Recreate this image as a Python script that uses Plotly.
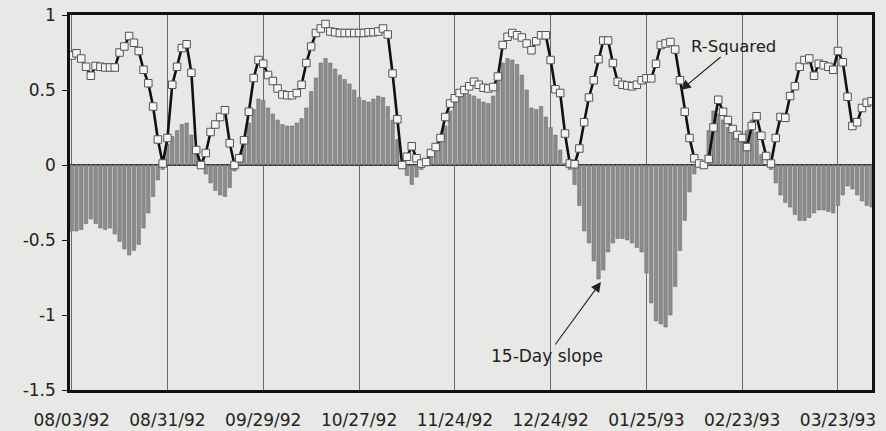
import plotly.graph_objects as go

# Trading-day index labels (every 20 sessions)
tick_positions = [0, 20, 40, 60, 80, 100, 120, 140, 160]
tick_labels = ["08/03/92", "08/31/92", "09/29/92", "10/27/92", "11/24/92",
               "12/24/92", "01/25/93", "02/23/93", "03/23/93"]

y_tick_values = [1, 0.5, 0, -0.5, -1, -1.5]
y_tick_labels = ["1", "0.5", "0", "-0.5", "-1", "-1.5"]

# R-Squared (line with square markers), one value per trading day
r_squared = [
    0.73, 0.745, 0.71, 0.655, 0.595, 0.66, 0.655, 0.65, 0.65, 0.65,
    0.75, 0.79, 0.86, 0.815, 0.76, 0.635, 0.545, 0.39, 0.17, 0.01,
    0.18, 0.535, 0.655, 0.78, 0.805, 0.615, 0.1, 0.0, 0.08, 0.22,
    0.27, 0.32, 0.365, 0.145, 0.0, 0.045, 0.165, 0.355, 0.58, 0.7,
    0.675, 0.6, 0.56, 0.51, 0.47, 0.465, 0.465, 0.48, 0.535, 0.68,
    0.79, 0.88, 0.91, 0.94, 0.89, 0.885, 0.88, 0.88, 0.88, 0.88,
    0.88, 0.88, 0.885, 0.885, 0.89, 0.91, 0.87, 0.61, 0.305, 0.0,
    0.055, 0.125, 0.045, 0.01, 0.02, 0.08, 0.12, 0.18, 0.32, 0.41,
    0.445, 0.48, 0.5, 0.525, 0.555, 0.535, 0.515, 0.51, 0.52, 0.59,
    0.8, 0.855, 0.88, 0.865, 0.85, 0.81, 0.765, 0.825, 0.865, 0.865,
    0.7, 0.505, 0.48, 0.21, 0.01, 0.005, 0.11, 0.285, 0.45, 0.565,
    0.705, 0.83, 0.83, 0.68, 0.555, 0.535, 0.53, 0.525, 0.535, 0.565,
    0.578, 0.578, 0.675, 0.8, 0.81, 0.82, 0.77, 0.565, 0.355, 0.18,
    0.045, 0.01, 0.0, 0.04, 0.25, 0.435, 0.355, 0.3, 0.24, 0.2,
    0.18, 0.12, 0.26, 0.325, 0.195, 0.06, 0.01, 0.18, 0.32, 0.315,
    0.46, 0.525, 0.655, 0.7, 0.71, 0.595, 0.675, 0.665, 0.655, 0.635,
    0.76, 0.685, 0.455, 0.26, 0.285, 0.38, 0.415, 0.425,
]

# 15-Day slope (bars), one value per trading day
slope_15day = [
    -0.44, -0.44, -0.43, -0.39, -0.36, -0.39, -0.42, -0.43, -0.42, -0.46,
    -0.51, -0.56, -0.6, -0.57, -0.53, -0.42, -0.32, -0.21, -0.1, -0.03,
    0.14, 0.19, 0.23, 0.27, 0.28, 0.2, 0.08, -0.01, -0.06, -0.12,
    -0.17, -0.2, -0.21, -0.15, -0.04, 0.05, 0.14, 0.28, 0.37, 0.44,
    0.43, 0.38, 0.34, 0.3, 0.27, 0.26, 0.26, 0.28, 0.31, 0.38,
    0.49, 0.58, 0.68, 0.71, 0.68, 0.64, 0.6, 0.57, 0.54, 0.5,
    0.45, 0.43, 0.42, 0.44, 0.46, 0.45, 0.39, 0.3, 0.17, 0.02,
    -0.07, -0.13, -0.08, -0.03, 0.02, 0.05, 0.11, 0.17, 0.26, 0.36,
    0.43, 0.47, 0.47, 0.47, 0.46, 0.44, 0.42, 0.41, 0.46, 0.58,
    0.68, 0.71, 0.7, 0.67, 0.6, 0.5, 0.38, 0.37, 0.39, 0.32,
    0.25, 0.2, 0.1, 0.01, -0.03, -0.13, -0.27, -0.44, -0.52, -0.64,
    -0.76, -0.7, -0.58, -0.52, -0.49, -0.49, -0.5, -0.52, -0.55, -0.58,
    -0.72, -0.92, -1.04, -1.06, -1.08, -1.0, -0.81, -0.57, -0.37, -0.18,
    -0.06, -0.01, 0.01, 0.23, 0.36, 0.34, 0.3, 0.25, 0.22, 0.2,
    0.18, 0.23, 0.3, 0.22, 0.07, 0.0, -0.03, -0.12, -0.2, -0.25,
    -0.28, -0.33, -0.37, -0.37, -0.35, -0.32, -0.3, -0.3, -0.31, -0.32,
    -0.27, -0.2, -0.14, -0.16, -0.2, -0.24, -0.27, -0.28,
]

days = list(range(len(r_squared)))

FONT = "DejaVu Sans"
BG = "#e8e8e6"

fig = go.Figure()

fig.add_trace(go.Bar(
    x=days, y=slope_15day,
    marker=dict(color="#8c8c8c", line=dict(color="#707070", width=0.6)),
    showlegend=False, hoverinfo="skip",
))

fig.add_trace(go.Scatter(
    x=days, y=r_squared, mode="lines+markers",
    line=dict(color="#111111", width=2.6),
    marker=dict(symbol="square", size=7.5, color="#f4f4f4",
                line=dict(color="#555555", width=1)),
    showlegend=False, hoverinfo="skip",
))

fig.add_annotation(
    x=127.2, y=0.5, xref="x", yref="y",
    text="R-Squared", showarrow=True,
    ax=53, ay=-44,
    arrowhead=2, arrowsize=1.8, arrowwidth=1.1, arrowcolor="#222",
    font=dict(family=FONT, size=16.5, color="#222"),
)
fig.add_annotation(
    x=110.5, y=-0.78, xref="x", yref="y",
    text="15-Day slope", showarrow=True,
    ax=-54, ay=74,
    arrowhead=2, arrowsize=1.8, arrowwidth=1.1, arrowcolor="#222",
    font=dict(family=FONT, size=17, color="#222"),
)

fig.update_layout(
    width=886, height=431,
    margin=dict(l=70, r=14, t=15, b=41),
    paper_bgcolor=BG, plot_bgcolor=BG,
    bargap=0.28,
    font=dict(family=FONT, size=17, color="#222"),
    xaxis=dict(
        range=[-0.35, 167.1], automargin=False,
        tickmode="array", tickvals=tick_positions, ticktext=tick_labels,
        showgrid=True, gridcolor="#6a6a6a", gridwidth=1,
        showline=True, linecolor="#111", linewidth=2.5, mirror=True,
        ticks="", ticklabelstandoff=13, zeroline=False,
        tickfont=dict(family=FONT, size=17, color="#222"),
    ),
    yaxis=dict(
        range=[-1.5, 1], automargin=False,
        tickmode="array", tickvals=y_tick_values, ticktext=y_tick_labels,
        showgrid=False,
        zeroline=True, zerolinecolor="#333", zerolinewidth=1.5,
        showline=True, linecolor="#111", linewidth=2.5, mirror=True,
        ticks="outside", ticklen=5, tickcolor="#111", tickwidth=1,
        ticklabelstandoff=3,
        tickfont=dict(family=FONT, size=17, color="#222"),
    ),
)

fig.write_html(
    "out.html",
    config={"displayModeBar": False},
    post_script="document.body.style.margin='0';document.body.style.padding='0';",
)
